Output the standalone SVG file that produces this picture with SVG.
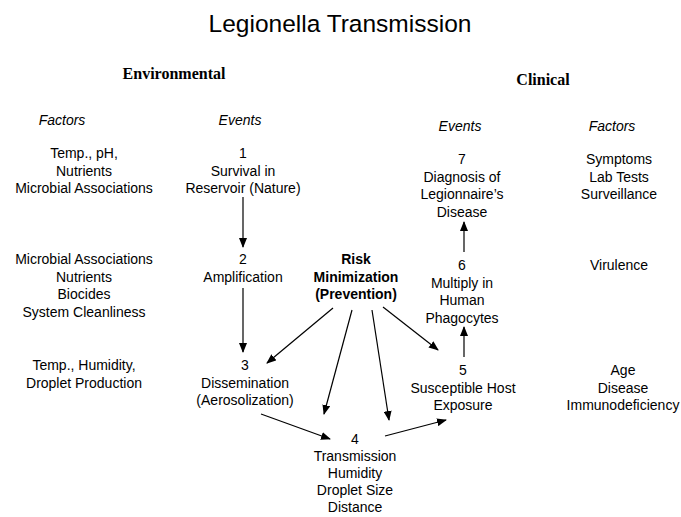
<svg xmlns="http://www.w3.org/2000/svg" width="681" height="517" viewBox="0 0 681 517">
<defs>
<marker id="ah" markerWidth="10" markerHeight="8" refX="9" refY="4" orient="auto" markerUnits="userSpaceOnUse">
<path d="M0,0 L10,4 L0,8 Z" fill="#000"/>
</marker>
</defs>
<style>
text{font-family:"Liberation Sans",Arial,sans-serif;font-size:14px;fill:#000;text-anchor:middle}
.title{font-size:24.5px}
.head{font-family:"Liberation Serif","Times New Roman",serif;font-weight:bold;font-size:16px}
.it{font-style:italic}
.b{font-weight:bold}
.c line{stroke:#000;stroke-width:1.2;marker-end:url(#ah)}
</style>
<rect width="681" height="517" fill="#fff"/>
<text class="title" x="340" y="32">Legionella Transmission</text>
<text class="head" x="174" y="79">Environmental</text>
<text class="head" x="543" y="85">Clinical</text>
<text class="it" x="62" y="125">Factors</text>
<text class="it" x="240" y="125">Events</text>
<text class="it" x="460" y="131">Events</text>
<text class="it" x="612" y="131">Factors</text>

<g id="f1"><text x="84" y="158">Temp., pH,</text><text x="84" y="175.5">Nutrients</text><text x="84" y="193">Microbial Associations</text></g>
<g id="f2"><text x="84" y="264">Microbial Associations</text><text x="84" y="281.5">Nutrients</text><text x="84" y="299">Biocides</text><text x="84" y="316.5">System Cleanliness</text></g>
<g id="f3"><text x="84" y="370">Temp., Humidity,</text><text x="84" y="387.5">Droplet Production</text></g>

<g id="e1"><text x="243" y="158">1</text><text x="243" y="175.5">Survival in</text><text x="243" y="193">Reservoir (Nature)</text></g>
<g id="e2"><text x="243" y="264">2</text><text x="243" y="281.5">Amplification</text></g>
<g id="e3"><text x="245" y="370">3</text><text x="245" y="387.5">Dissemination</text><text x="245" y="405">(Aerosolization)</text></g>
<g id="e4"><text x="355" y="444">4</text><text x="355" y="461">Transmission</text><text x="355" y="478">Humidity</text><text x="355" y="495">Droplet Size</text><text x="355" y="512">Distance</text></g>
<g id="e5"><text x="463" y="375">5</text><text x="463" y="392.5">Susceptible Host</text><text x="463" y="410">Exposure</text></g>
<g id="e6"><text x="462" y="270">6</text><text x="462" y="287.5">Multiply in</text><text x="462" y="305">Human</text><text x="462" y="322.5">Phagocytes</text></g>
<g id="e7"><text x="462" y="164">7</text><text x="462" y="181.5">Diagnosis of</text><text x="462" y="199">Legionnaire’s</text><text x="462" y="216.5">Disease</text></g>
<g id="risk"><text class="b" x="356" y="264">Risk</text><text class="b" x="356" y="281.5">Minimization</text><text class="b" x="356" y="299">(Prevention)</text></g>

<g id="f5"><text x="619" y="164">Symptoms</text><text x="619" y="181.5">Lab Tests</text><text x="619" y="199">Surveillance</text></g>
<g id="f6"><text x="619" y="270">Virulence</text></g>
<g id="f7"><text x="623" y="375">Age</text><text x="623" y="392.5">Disease</text><text x="623" y="410">Immunodeficiency</text></g>

<g id="connectors" class="c">
<line x1="243" y1="197" x2="243" y2="247"/>
<line x1="243" y1="288" x2="243" y2="352"/>
<line x1="333" y1="308" x2="267" y2="363"/>
<line x1="352" y1="310" x2="324" y2="414"/>
<line x1="372" y1="310" x2="389" y2="420"/>
<line x1="383" y1="307" x2="438" y2="350"/>
<line x1="261" y1="414" x2="330" y2="439"/>
<line x1="385" y1="436" x2="446" y2="420"/>
<line x1="464" y1="357" x2="464" y2="327"/>
<line x1="464" y1="252" x2="464" y2="222"/>
</g>
</svg>
